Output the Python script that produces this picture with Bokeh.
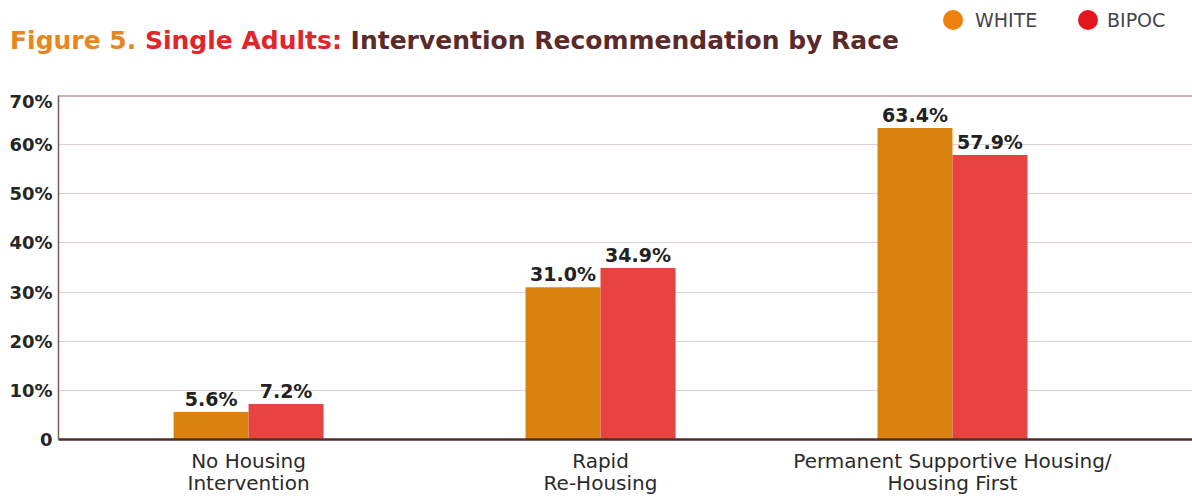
from bokeh.plotting import figure
from bokeh.layouts import column
from bokeh.models import Range1d, FixedTicker, Span, ColumnDataSource, Div
from bokeh.core.properties import value
from bokeh.embed import file_html
from bokeh.resources import INLINE

categories = ["No Housing\nIntervention", "Rapid\nRe-Housing", "Permanent Supportive Housing/\nHousing First"]
white = [5.6, 31.0, 63.4]
bipoc = [7.2, 34.9, 57.9]
series_names = ["WHITE", "BIPOC"]
series_colors = ["#EE800C", "#E3151F"]
y_ticks = [0, 10, 20, 30, 40, 50, 60, 70]
y_tick_labels = ["0", "10%", "20%", "30%", "40%", "50%", "60%", "70%"]
title_parts = ["Figure 5.", "Single Adults:", "Intervention Recommendation by Race"]
title_colors = ["#E8871E", "#E0252B", "#5B2A2A"]

ORANGE = "#DA820F"
RED = "#E74341"
BAR_W = 0.213
W = 1192
HDR_H = 90

# ---------- header (title + legend) ----------
title_html = " ".join(f'<span style="color:{c}">{t}</span>' for t, c in zip(title_parts, title_colors))
legend_html = ""
for name, col, cx, tx in zip(series_names, series_colors, [943, 1078], [975, 1107]):
    legend_html += (f'<div style="position:absolute;left:{cx}px;top:10px;width:20px;height:20px;'
                    f'border-radius:50%;background:{col}"></div>'
                    f'<div style="position:absolute;left:{tx}px;top:9px;line-height:22px;'
                    f'font-size:19px;color:#45454f;white-space:nowrap">{name}</div>')
html = (f'<div style="position:relative;width:{W}px;height:{HDR_H}px;font-family:\'DejaVu Sans\';">'
        f'<div style="position:absolute;left:10px;top:28px;line-height:25px;font-size:25px;'
        f'font-weight:bold;white-space:nowrap">{title_html}</div>{legend_html}</div>')
hdr = Div(text=html, width=W, height=HDR_H, styles={"margin": "0", "padding": "0"})

# ---------- main chart ----------
centers = [i + 0.5 for i in range(len(categories))]
xw = [c - BAR_W / 2 for c in centers]
xb = [c + BAR_W / 2 for c in centers]

p = figure(width=W, height=498 - HDR_H, output_backend="svg", toolbar_location=None,
           x_range=Range1d(-0.040, 3.182), y_range=Range1d(0, 70),
           min_border_left=58, min_border_right=0, min_border_top=5, min_border_bottom=40)
p.outline_line_color = None

src_w = ColumnDataSource(dict(x=xw, top=white, lab=[f"{v:.1f}%" for v in white]))
src_b = ColumnDataSource(dict(x=xb, top=bipoc, lab=[f"{v:.1f}%" for v in bipoc]))
p.vbar(x="x", top="top", width=BAR_W, bottom=0, source=src_w, fill_color=ORANGE, line_color=None)
p.vbar(x="x", top="top", width=BAR_W, bottom=0, source=src_b, fill_color=RED, line_color=None)

for s in (src_w, src_b):
    p.text(x="x", y="top", text="lab", source=s, text_align="center", text_baseline="bottom",
           y_offset=-2, text_font=value("DejaVu Sans"), text_font_style="bold",
           text_font_size="19px", text_color="#222222")

p.xgrid.grid_line_color = None
p.ygrid.grid_line_color = "#dccfcf"
p.ygrid.grid_line_width = 1.2
p.yaxis.ticker = FixedTicker(ticks=y_ticks)
p.yaxis.major_label_overrides = {t: l for t, l in zip(y_ticks, y_tick_labels)}
p.yaxis.major_tick_line_color = None
p.yaxis.minor_tick_line_color = None
p.yaxis.major_tick_out = 0
p.yaxis.major_tick_in = 0
p.yaxis.axis_line_color = "#7d5c57"
p.yaxis.axis_line_width = 1.5
p.yaxis.major_label_text_font = "DejaVu Sans"
p.yaxis.major_label_text_font_style = "bold"
p.yaxis.major_label_text_font_size = "18px"
p.yaxis.major_label_text_color = "#262626"
p.yaxis.major_label_standoff = 6

p.xaxis.ticker = FixedTicker(ticks=centers)
p.xaxis.major_label_overrides = {c: l for c, l in zip(centers, categories)}
p.xaxis.major_tick_line_color = None
p.xaxis.minor_tick_line_color = None
p.xaxis.major_tick_out = 0
p.xaxis.major_tick_in = 0
p.xaxis.axis_line_color = "#4b2f2d"
p.xaxis.axis_line_width = 2.5
p.xaxis.major_label_text_font = "DejaVu Sans"
p.xaxis.major_label_text_font_size = "20px"
p.xaxis.major_label_text_line_height = 0.95
p.xaxis.major_label_text_color = "#2b2b2b"
p.xaxis.major_label_standoff = 9

p.add_layout(Span(location=70, dimension="width", line_color="#8a6a65", line_width=2))

layout = column(hdr, p)
open("out.html", "w").write(file_html(layout, INLINE))
